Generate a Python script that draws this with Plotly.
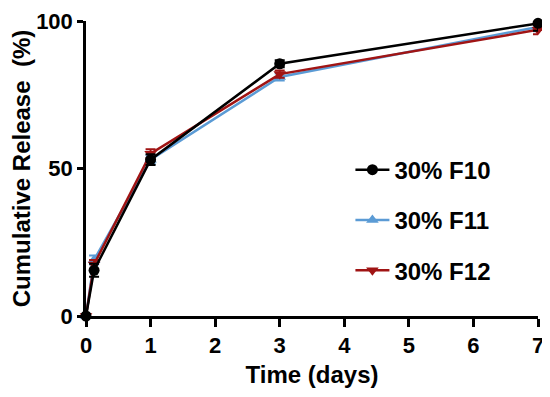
import plotly.graph_objects as go

time_days = [0, 0.125, 1, 3, 7]
f10 = [0, 15.5, 53, 85.5, 99.2]
f10_err = [0.5, 2.2, 1.8, 1.2, 2.5]
f11 = [0, 19, 53, 81, 98]
f11_err = [0.5, 1.5, 1.5, 1.2, 1.5]
f12 = [0, 17.5, 55, 82, 97]
f12_err = [0.5, 1.5, 1.5, 1.2, 1.5]

names = ["30% F10", "30% F11", "30% F12"]
colors = ["#000000", "#5b9bd5", "#a01414"]
symbols = ["circle", "triangle-up", "triangle-down"]

FONT = "Arial, Liberation Sans, Helvetica, sans-serif"

fig = go.Figure()
series = [(f11, f11_err, 1), (f12, f12_err, 2), (f10, f10_err, 0)]
for vals, errs, i in series:
    fig.add_trace(go.Scatter(
        x=time_days, y=vals, name=names[i], mode="lines+markers",
        line=dict(color=colors[i], width=2.5),
        marker=dict(symbol=symbols[i], size=11, color=colors[i]),
        error_y=dict(type="data", array=errs, color=colors[i], thickness=2, width=5),
        legendgroup=names[i], legendrank=i + 1,
        cliponaxis=False,
    ))

fig.update_layout(
    width=550, height=397,
    margin=dict(l=78, r=20, t=13, b=89, autoexpand=False),
    paper_bgcolor="white", plot_bgcolor="white",
    font=dict(family=FONT, color="black"),
    showlegend=True,
    legend=dict(x=0.585, y=0.325, xanchor="left", yanchor="middle",
                font=dict(family=FONT, size=24, color="black", weight="bold"),
                tracegroupgap=16, itemwidth=34, bgcolor="rgba(0,0,0,0)"),
    xaxis=dict(range=[0, 7], tickvals=[0, 1, 2, 3, 4, 5, 6, 7],
               showline=True, linecolor="black", linewidth=2.5,
               ticks="outside", ticklen=8, tickwidth=2.5, tickcolor="black",
               showgrid=False, zeroline=False, automargin=False,
               ticklabeloverflow="allow",
               tickfont=dict(family=FONT, size=22, weight="bold"),
               title=dict(text="Time (days)", font=dict(family=FONT, size=24, weight="bold"), standoff=10)),
    yaxis=dict(range=[0, 100], tickvals=[0, 50, 100],
               showline=True, linecolor="black", linewidth=2.5,
               ticks="outside", ticklen=6, tickwidth=2.5, tickcolor="black",
               showgrid=False, zeroline=False, automargin=False,
               ticklabeloverflow="allow",
               tickfont=dict(family=FONT, size=22, weight="bold"),
               title=dict(text="Cumulative Release  (%)", font=dict(family=FONT, size=24, weight="bold"), standoff=8)),
)

fig.write_html("out.html")
